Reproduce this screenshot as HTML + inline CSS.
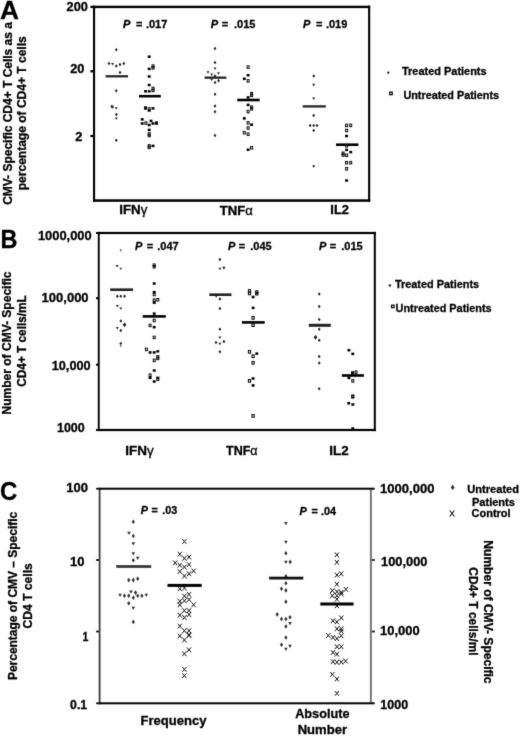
<!DOCTYPE html>
<html><head><meta charset="utf-8"><style>
html,body{margin:0;padding:0;background:#fff;}
body{width:520px;height:736px;overflow:hidden;}
svg{display:block;font-family:"Liberation Sans", sans-serif;will-change:transform;}
</style></head><body>
<svg width="520" height="736" viewBox="0 0 520 736">
<defs><filter id="sb" x="0" y="0" width="520" height="736" filterUnits="userSpaceOnUse" color-interpolation-filters="sRGB"><feConvolveMatrix order="3" kernelMatrix="0.01134 0.08382 0.01134 0.08382 0.61935 0.08382 0.01134 0.08382 0.01134" edgeMode="duplicate"/></filter></defs>
<g filter="url(#sb)">
<rect width="520" height="736" fill="#fff"/>
<rect x="93" y="5.7" width="2.1" height="196.1" fill="#000"/>
<rect x="368.1" y="5.7" width="2.1" height="196.1" fill="#000"/>
<rect x="93" y="199.3" width="277.2" height="2.5" fill="#000"/>
<rect x="93" y="5.7" width="277.2" height="2.4" fill="#000"/>
<rect x="90.4" y="5.75" width="3" height="2.3" fill="#000"/>
<rect x="90.4" y="70.1" width="3" height="2.3" fill="#000"/>
<rect x="90.4" y="134.85" width="3" height="2.3" fill="#000"/>
<path d="M386.8 71.8L389.8 71.8L388.3 74.5Z" fill="#222"/>
<rect x="389.75" y="92.15" width="2.5" height="2.5" fill="none" stroke="#111" stroke-width="1.3"/>
<rect x="97.8" y="231.9" width="278.2" height="2.2" fill="#000"/>
<rect x="97.8" y="231.9" width="1.9" height="199.2" fill="#000"/>
<rect x="373.8" y="231.9" width="2" height="199.2" fill="#000"/>
<rect x="97.8" y="428.9" width="278.2" height="2.2" fill="#000"/>
<rect x="96" y="232" width="2.5" height="2" fill="#000"/>
<rect x="96" y="297.2" width="2.5" height="2" fill="#000"/>
<rect x="96" y="363.7" width="2.5" height="2" fill="#000"/>
<rect x="96" y="429" width="2.5" height="2" fill="#000"/>
<path d="M388.15 284.54L391.55 284.54L389.85 287.6Z" fill="#222"/>
<rect x="391.55" y="305.15" width="2.5" height="2.5" fill="none" stroke="#111" stroke-width="1.3"/>
<rect x="369.9" y="489.6" width="2" height="212.8" fill="#767676"/>
<rect x="98.7" y="487.8" width="1.8" height="216.6" fill="#3c3c3c"/>
<rect x="98.7" y="487.7" width="276" height="2" fill="#000"/>
<rect x="98.7" y="702.3" width="276" height="2" fill="#000"/>
<rect x="96.2" y="559.1" width="2.6" height="1.8" fill="#000"/>
<rect x="371.9" y="559.1" width="3" height="1.8" fill="#222"/>
<rect x="96.2" y="630.6" width="2.6" height="1.8" fill="#000"/>
<rect x="371.9" y="630.6" width="3" height="1.8" fill="#222"/>
<rect x="96.2" y="487.8" width="2.6" height="1.8" fill="#000"/>
<rect x="96.2" y="702.4" width="2.6" height="1.8" fill="#000"/>
<path d="M452.7 484.55Q453.46 486.26 454.6 487.4Q453.46 488.54 452.7 490.25Q451.94 488.54 450.8 487.4Q451.94 486.26 452.7 484.55Z" fill="#333"/>
<path d="M449.65 510.5L454.45 516.5M454.45 510.5L449.65 516.5" stroke="#111" stroke-width="1.1" fill="none"/>
<text id="A" stroke="#000" stroke-width="0.3" x="0.13" y="19.26" font-size="25" font-weight="bold" textLength="19.00" lengthAdjust="spacingAndGlyphs">A</text>
<text id="a200" stroke="#000" stroke-width="0.3" x="66.58" y="11.18" font-size="12" font-weight="bold" textLength="21.31" lengthAdjust="spacingAndGlyphs">200</text>
<text id="a20" stroke="#000" stroke-width="0.3" x="70.30" y="72.98" font-size="12" font-weight="bold" textLength="14.15" lengthAdjust="spacingAndGlyphs">20</text>
<text id="a2" stroke="#000" stroke-width="0.3" x="75.25" y="140.78" font-size="12" font-weight="bold" textLength="7.19" lengthAdjust="spacingAndGlyphs">2</text>
<text id="p017" stroke="#000" stroke-width="0.3" x="122.96" y="27.96" font-size="11" font-weight="bold" xml:space="preserve"><tspan id="p017_P" font-style="italic">P</tspan><tspan id="p017_E" dx="2.76"> =</tspan><tspan id="p017_D" dx="0.30"> .017</tspan></text>
<text id="p015" stroke="#000" stroke-width="0.3" x="210.78" y="27.96" font-size="11" font-weight="bold" xml:space="preserve"><tspan id="p015_P" font-style="italic">P</tspan><tspan id="p015_E" dx="0.51"> =</tspan><tspan id="p015_D" dx="2.80"> .015</tspan></text>
<text id="p019" stroke="#000" stroke-width="0.3" x="302.96" y="27.96" font-size="11" font-weight="bold" xml:space="preserve"><tspan id="p019_P" font-style="italic">P</tspan><tspan id="p019_E" dx="2.76"> =</tspan><tspan id="p019_D" dx="0.30"> .019</tspan></text>
<text id="ifnA" stroke="#000" stroke-width="0.3" x="119.22" y="214.16" font-size="12" font-weight="bold" textLength="28.10" lengthAdjust="spacingAndGlyphs">IFN<tspan font-weight="normal">γ</tspan></text>
<text id="tnfA" stroke="#000" stroke-width="0.3" x="219.82" y="214.56" font-size="12" font-weight="bold" textLength="32.99" lengthAdjust="spacingAndGlyphs">TNF<tspan font-weight="normal">α</tspan></text>
<text id="il2A" stroke="#000" stroke-width="0.3" x="330.31" y="213.86" font-size="12" font-weight="bold" textLength="18.63" lengthAdjust="spacingAndGlyphs">IL2</text>
<text id="trA" stroke="#000" stroke-width="0.3" x="401.96" y="74.76" font-size="11.5" font-weight="bold" textLength="84.67" lengthAdjust="spacingAndGlyphs">Treated Patients</text>
<text id="unA" stroke="#000" stroke-width="0.3" x="403.38" y="99.26" font-size="11.5" font-weight="bold" textLength="95.74" lengthAdjust="spacingAndGlyphs">Untreated Patients</text>
<text id="ytA1" stroke="#000" stroke-width="0.3" transform="translate(12.28 113.47) rotate(-90)" x="0" y="0" text-anchor="middle" font-size="11.9" font-weight="bold" textLength="182.75" lengthAdjust="spacingAndGlyphs">CMV- Specific CD4+ T Cells as a</text>
<text id="ytA2" stroke="#000" stroke-width="0.3" transform="translate(26.38 113.26) rotate(-90)" x="0" y="0" text-anchor="middle" font-size="11.9" font-weight="bold" textLength="153.94" lengthAdjust="spacingAndGlyphs">percentage of CD4+ T cells</text>
<text id="B" stroke="#000" stroke-width="0.3" x="0.54" y="247.76" font-size="25" font-weight="bold" textLength="16.93" lengthAdjust="spacingAndGlyphs">B</text>
<text id="b6" stroke="#000" stroke-width="0.3" x="37.92" y="239.85" font-size="12.5" font-weight="bold" textLength="53.82" lengthAdjust="spacingAndGlyphs">1000,000</text>
<text id="b5" stroke="#000" stroke-width="0.3" x="41.61" y="302.06" font-size="12.5" font-weight="bold" textLength="46.99" lengthAdjust="spacingAndGlyphs">100,000</text>
<text id="b4" stroke="#000" stroke-width="0.3" x="51.69" y="370.46" font-size="12.5" font-weight="bold" textLength="38.93" lengthAdjust="spacingAndGlyphs">10,000</text>
<text id="b3" stroke="#000" stroke-width="0.3" x="56.97" y="431.70" font-size="12.5" font-weight="bold">1000</text>
<text id="p047" stroke="#000" stroke-width="0.3" x="134.96" y="250.46" font-size="11" font-weight="bold" xml:space="preserve"><tspan id="p047_P" font-style="italic">P</tspan><tspan id="p047_E" dx="1.34"> =</tspan><tspan id="p047_D" dx="1.05"> .047</tspan></text>
<text id="p045" stroke="#000" stroke-width="0.3" x="227.96" y="250.46" font-size="11" font-weight="bold" xml:space="preserve"><tspan id="p045_P" font-style="italic">P</tspan><tspan id="p045_E" dx="0.33"> =</tspan><tspan id="p045_D" dx="2.06"> .045</tspan></text>
<text id="p015b" stroke="#000" stroke-width="0.3" x="318.96" y="250.46" font-size="11" font-weight="bold" xml:space="preserve"><tspan id="p015b_P" font-style="italic">P</tspan><tspan id="p015b_E" dx="0.29"> =</tspan><tspan id="p015b_D" dx="2.10"> .015</tspan></text>
<text id="ifnB" stroke="#000" stroke-width="0.3" x="125.38" y="454.76" font-size="12" font-weight="bold" textLength="28.44" lengthAdjust="spacingAndGlyphs">IFN<tspan font-weight="normal">γ</tspan></text>
<text id="tnfB" stroke="#000" stroke-width="0.3" x="226.05" y="455.26" font-size="12" font-weight="bold" textLength="31.53" lengthAdjust="spacingAndGlyphs">TNF<tspan font-weight="normal">α</tspan></text>
<text id="il2B" stroke="#000" stroke-width="0.3" x="329.36" y="454.56" font-size="12" font-weight="bold" textLength="19.34" lengthAdjust="spacingAndGlyphs">IL2</text>
<text id="trB" stroke="#000" stroke-width="0.3" x="394.96" y="287.76" font-size="11.5" font-weight="bold" textLength="84.18" lengthAdjust="spacingAndGlyphs">Treated Patients</text>
<text id="unB" stroke="#000" stroke-width="0.3" x="395.62" y="311.76" font-size="11.5" font-weight="bold" textLength="96.00" lengthAdjust="spacingAndGlyphs">Untreated Patients</text>
<text id="ytB1" stroke="#000" stroke-width="0.3" transform="translate(11.47 343.03) rotate(-90)" x="0" y="0" text-anchor="middle" font-size="12" font-weight="bold" textLength="142.93" lengthAdjust="spacingAndGlyphs">Number of CMV- Specific</text>
<text id="ytB2" stroke="#000" stroke-width="0.3" transform="translate(25.78 341.00) rotate(-90)" x="0" y="0" text-anchor="middle" font-size="12" font-weight="bold" textLength="91.38" lengthAdjust="spacingAndGlyphs">CD4+ T cells/mL</text>
<text id="C" stroke="#000" stroke-width="0.3" x="-0.07" y="500.18" font-size="25" font-weight="bold" textLength="17.30" lengthAdjust="spacingAndGlyphs">C</text>
<text id="c100" stroke="#000" stroke-width="0.3" x="66.25" y="491.56" font-size="12" font-weight="bold" textLength="21.65" lengthAdjust="spacingAndGlyphs">100</text>
<text id="c10" stroke="#000" stroke-width="0.3" x="69.99" y="566.02" font-size="12" font-weight="bold" textLength="14.49" lengthAdjust="spacingAndGlyphs">10</text>
<text id="c1" stroke="#000" stroke-width="0.3" x="82.52" y="640.55" font-size="12" font-weight="bold" textLength="5.87" lengthAdjust="spacingAndGlyphs">1</text>
<text id="c01" stroke="#000" stroke-width="0.3" x="70.13" y="708.63" font-size="12" font-weight="bold" textLength="16.94" lengthAdjust="spacingAndGlyphs">0.1</text>
<text id="r6" stroke="#000" stroke-width="0.3" x="380.13" y="493.14" font-size="12" font-weight="bold" textLength="54.26" lengthAdjust="spacingAndGlyphs">1000,000</text>
<text id="r5" stroke="#000" stroke-width="0.3" x="381.03" y="565.86" font-size="12" font-weight="bold" textLength="46.42" lengthAdjust="spacingAndGlyphs">100,000</text>
<text id="r4" stroke="#000" stroke-width="0.3" x="380.10" y="634.92" font-size="12" font-weight="bold" textLength="39.50" lengthAdjust="spacingAndGlyphs">10,000</text>
<text id="r3" stroke="#000" stroke-width="0.3" x="380.36" y="708.83" font-size="12" font-weight="bold" textLength="27.71" lengthAdjust="spacingAndGlyphs">1000</text>
<text id="p03" stroke="#000" stroke-width="0.3" x="140.83" y="514.06" font-size="10.8" font-weight="bold" xml:space="preserve"><tspan id="p03_P" font-style="italic">P</tspan><tspan id="p03_E" dx="0.46"> =</tspan><tspan id="p03_D" dx="1.35"> .03</tspan></text>
<text id="p04" stroke="#000" stroke-width="0.3" x="299.62" y="515.26" font-size="10.8" font-weight="bold" xml:space="preserve"><tspan id="p04_P" font-style="italic">P</tspan><tspan id="p04_E" dx="1.67"> =</tspan><tspan id="p04_D" dx="0.25"> .04</tspan></text>
<text id="freq" stroke="#000" stroke-width="0.3" x="140.53" y="724.66" font-size="12.8" font-weight="bold" textLength="65.99" lengthAdjust="spacingAndGlyphs">Frequency</text>
<text id="abs" stroke="#000" stroke-width="0.3" x="295.13" y="717.76" font-size="12.8" font-weight="bold" textLength="54.39" lengthAdjust="spacingAndGlyphs">Absolute</text>
<text id="num" stroke="#000" stroke-width="0.3" x="297.69" y="733.56" font-size="12.8" font-weight="bold" textLength="49.34" lengthAdjust="spacingAndGlyphs">Number</text>
<text id="lu" stroke="#000" stroke-width="0.3" x="467.28" y="492.60" font-size="11" font-weight="bold" textLength="51.79" lengthAdjust="spacingAndGlyphs">Untreated</text>
<text id="lp" stroke="#000" stroke-width="0.3" x="471.92" y="506.36" font-size="11" font-weight="bold" textLength="43.05" lengthAdjust="spacingAndGlyphs">Patients</text>
<text id="lc" stroke="#000" stroke-width="0.3" x="471.62" y="517.26" font-size="11" font-weight="bold" textLength="38.94" lengthAdjust="spacingAndGlyphs">Control</text>
<text id="ytC1" stroke="#000" stroke-width="0.3" transform="translate(17.11 595.93) rotate(-90)" x="0" y="0" text-anchor="middle" font-size="12" font-weight="bold" textLength="168.31" lengthAdjust="spacingAndGlyphs">Percentage of CMV – Specific</text>
<text id="ytC2" stroke="#000" stroke-width="0.3" transform="translate(32.18 595.91) rotate(-90)" x="0" y="0" text-anchor="middle" font-size="12" font-weight="bold" textLength="65.27" lengthAdjust="spacingAndGlyphs">CD4 T cells</text>
<text id="rtC1" stroke="#000" stroke-width="0.3" transform="translate(484.16 611.93) rotate(90)" x="0" y="0" text-anchor="middle" font-size="12" font-weight="bold" textLength="143.18" lengthAdjust="spacingAndGlyphs">Number of CMV- Specific</text>
<text id="rtC2" stroke="#000" stroke-width="0.3" transform="translate(469.06 611.45) rotate(90)" x="0" y="0" text-anchor="middle" font-size="12" font-weight="bold" textLength="88.26" lengthAdjust="spacingAndGlyphs">CD4+ T cells/ml</text>
<path d="M116.3 48.05L117.7 49.8L116.3 51.55L114.9 49.8Z" fill="#222"/>
<path d="M109 61.85L110.4 63.6L109 65.35L107.6 63.6Z" fill="#222"/>
<path d="M116.3 64.15L117.7 65.9L116.3 67.65L114.9 65.9Z" fill="#222"/>
<path d="M120 62.75L121.4 64.5L120 66.25L118.6 64.5Z" fill="#222"/>
<path d="M123.8 61.75L125.2 63.5L123.8 65.25L122.4 63.5Z" fill="#222"/>
<path d="M120 70.65L121.4 72.4L120 74.15L118.6 72.4Z" fill="#222"/>
<path d="M116.3 88.95L117.7 90.7L116.3 92.45L114.9 90.7Z" fill="#222"/>
<path d="M112.6 105.35L114 107.1L112.6 108.85L111.2 107.1Z" fill="#222"/>
<path d="M116.3 112.65L117.7 114.4L116.3 116.15L114.9 114.4Z" fill="#222"/>
<path d="M116.3 138.45L117.7 140.2L116.3 141.95L114.9 140.2Z" fill="#222"/>
<path d="M111.2 62.88L114 62.88L112.6 65.4Z" fill="#222"/>
<path d="M114.9 107.28L117.7 107.28L116.3 109.8Z" fill="#222"/>
<path d="M114.9 117.48L117.7 117.48L116.3 120Z" fill="#222"/>
<path d="M111.8 104.85L113.2 106.6L111.8 108.35L110.4 106.6Z" fill="#222"/>
<rect x="105.6" y="75.175" width="22.4" height="2.25" fill="#202020"/>
<rect x="147.75" y="55.45" width="2.9" height="2.5" fill="#000"/>
<rect x="147.75" y="67.65" width="2.9" height="2.5" fill="#000"/>
<rect x="147.75" y="75.25" width="2.9" height="2.5" fill="#000"/>
<rect x="147.75" y="83.75" width="2.9" height="2.5" fill="#000"/>
<rect x="144.05" y="90.05" width="2.9" height="2.5" fill="#000"/>
<rect x="147.75" y="90.05" width="2.9" height="2.5" fill="#000"/>
<rect x="151.55" y="107.15" width="2.9" height="2.5" fill="#000"/>
<rect x="140.75" y="118.15" width="2.9" height="2.5" fill="#000"/>
<rect x="140.75" y="122.25" width="2.9" height="2.5" fill="#000"/>
<rect x="147.75" y="123.75" width="2.9" height="2.5" fill="#000"/>
<rect x="149.55" y="119.65" width="2.9" height="2.5" fill="#000"/>
<rect x="151.55" y="122.25" width="2.9" height="2.5" fill="#000"/>
<rect x="147.75" y="128.65" width="2.9" height="2.5" fill="#000"/>
<rect x="151.55" y="144.65" width="2.9" height="2.5" fill="#000"/>
<rect x="147.75" y="109.25" width="2.9" height="2.5" fill="#000"/>
<rect x="152" y="64.85" width="2" height="2.5" fill="none" stroke="#0a0a0a" stroke-width="1"/>
<rect x="152" y="66.65" width="2" height="2.5" fill="none" stroke="#0a0a0a" stroke-width="1"/>
<rect x="152" y="87.25" width="2" height="2.5" fill="none" stroke="#0a0a0a" stroke-width="1"/>
<rect x="152" y="89.15" width="2" height="2.5" fill="none" stroke="#0a0a0a" stroke-width="1"/>
<rect x="144.5" y="106.75" width="2" height="2.5" fill="none" stroke="#0a0a0a" stroke-width="1"/>
<rect x="148.2" y="107.75" width="2" height="2.5" fill="none" stroke="#0a0a0a" stroke-width="1"/>
<rect x="144.9" y="121.85" width="2" height="2.5" fill="none" stroke="#0a0a0a" stroke-width="1"/>
<rect x="155.5" y="121.85" width="2" height="2.5" fill="none" stroke="#0a0a0a" stroke-width="1"/>
<rect x="148.2" y="132.75" width="2" height="2.5" fill="none" stroke="#0a0a0a" stroke-width="1"/>
<rect x="148.2" y="134.25" width="2" height="2.5" fill="none" stroke="#0a0a0a" stroke-width="1"/>
<rect x="148.2" y="144.65" width="2" height="2.5" fill="none" stroke="#0a0a0a" stroke-width="1"/>
<rect x="148.2" y="146.15" width="2" height="2.5" fill="none" stroke="#0a0a0a" stroke-width="1"/>
<rect x="139" y="94.9" width="21.8" height="2.6" fill="#000"/>
<path d="M215 46.85L216.4 48.6L215 50.35L213.6 48.6Z" fill="#222"/>
<path d="M215 60.65L216.4 62.4L215 64.15L213.6 62.4Z" fill="#222"/>
<path d="M215 74.15L216.4 75.9L215 77.65L213.6 75.9Z" fill="#222"/>
<path d="M215 80.65L216.4 82.4L215 84.15L213.6 82.4Z" fill="#222"/>
<path d="M215 92.45L216.4 94.2L215 95.95L213.6 94.2Z" fill="#222"/>
<path d="M215 104.25L216.4 106L215 107.75L213.6 106Z" fill="#222"/>
<path d="M215 109.95L216.4 111.7L215 113.45L213.6 111.7Z" fill="#222"/>
<path d="M215 133.75L216.4 135.5L215 137.25L213.6 135.5Z" fill="#222"/>
<path d="M218.6 78.95L220 80.7L218.6 82.45L217.2 80.7Z" fill="#222"/>
<path d="M213.6 67.58L216.4 67.58L215 70.1Z" fill="#222"/>
<path d="M206.6 71.28L209.4 71.28L208 73.8Z" fill="#222"/>
<path d="M210.3 73.48L213.1 73.48L211.7 76Z" fill="#222"/>
<path d="M217.2 72.28L220 72.28L218.6 74.8Z" fill="#222"/>
<path d="M210.3 78.68L213.1 78.68L211.7 81.2Z" fill="#222"/>
<rect x="204.6" y="76.525" width="21.8" height="2.25" fill="#202020"/>
<rect x="246.65" y="73.95" width="2.9" height="2.5" fill="#000"/>
<rect x="242.85" y="77.55" width="2.9" height="2.5" fill="#000"/>
<rect x="246.65" y="96.15" width="2.9" height="2.5" fill="#000"/>
<rect x="246.65" y="103.65" width="2.9" height="2.5" fill="#000"/>
<rect x="242.85" y="117.15" width="2.9" height="2.5" fill="#000"/>
<rect x="250.15" y="123.45" width="2.9" height="2.5" fill="#000"/>
<rect x="246.65" y="148.45" width="2.9" height="2.5" fill="#000"/>
<rect x="247.1" y="65.85" width="2" height="2.5" fill="none" stroke="#0a0a0a" stroke-width="1"/>
<rect x="247.1" y="79.65" width="2" height="2.5" fill="none" stroke="#0a0a0a" stroke-width="1"/>
<rect x="250.6" y="92.45" width="2" height="2.5" fill="none" stroke="#0a0a0a" stroke-width="1"/>
<rect x="250.6" y="94.05" width="2" height="2.5" fill="none" stroke="#0a0a0a" stroke-width="1"/>
<rect x="250.6" y="105.95" width="2" height="2.5" fill="none" stroke="#0a0a0a" stroke-width="1"/>
<rect x="250.6" y="107.55" width="2" height="2.5" fill="none" stroke="#0a0a0a" stroke-width="1"/>
<rect x="247.1" y="110.35" width="2" height="2.5" fill="none" stroke="#0a0a0a" stroke-width="1"/>
<rect x="247.1" y="121.55" width="2" height="2.5" fill="none" stroke="#0a0a0a" stroke-width="1"/>
<rect x="247.1" y="126.75" width="2" height="2.5" fill="none" stroke="#0a0a0a" stroke-width="1"/>
<rect x="243.3" y="131.45" width="2" height="2.5" fill="none" stroke="#0a0a0a" stroke-width="1"/>
<rect x="247.1" y="132.95" width="2" height="2.5" fill="none" stroke="#0a0a0a" stroke-width="1"/>
<rect x="250.6" y="146.55" width="2" height="2.5" fill="none" stroke="#0a0a0a" stroke-width="1"/>
<rect x="237.3" y="98.7" width="22.4" height="2.6" fill="#000"/>
<path d="M313.7 74.25L315.1 76L313.7 77.75L312.3 76Z" fill="#222"/>
<path d="M313.7 113.75L315.1 115.5L313.7 117.25L312.3 115.5Z" fill="#222"/>
<path d="M310.1 123.65L311.5 125.4L310.1 127.15L308.7 125.4Z" fill="#222"/>
<path d="M313.7 123.65L315.1 125.4L313.7 127.15L312.3 125.4Z" fill="#222"/>
<path d="M317 123.65L318.4 125.4L317 127.15L315.6 125.4Z" fill="#222"/>
<path d="M313.7 128.75L315.1 130.5L313.7 132.25L312.3 130.5Z" fill="#222"/>
<path d="M312.2 83.8L315.2 83.8L313.7 86.5Z" fill="#222"/>
<path d="M312.2 97.4L315.2 97.4L313.7 100.1Z" fill="#222"/>
<path d="M312.2 165.3L315.2 165.3L313.7 168Z" fill="#222"/>
<rect x="302.7" y="105.275" width="23.1" height="2.25" fill="#202020"/>
<rect x="345.15" y="134.75" width="2.9" height="2.5" fill="#000"/>
<rect x="345.15" y="148.65" width="2.9" height="2.5" fill="#000"/>
<rect x="349.25" y="150.85" width="2.9" height="2.5" fill="#000"/>
<rect x="345.15" y="179.25" width="2.9" height="2.5" fill="#000"/>
<rect x="345.6" y="124.15" width="2" height="2.5" fill="none" stroke="#0a0a0a" stroke-width="1"/>
<rect x="349.7" y="124.15" width="2" height="2.5" fill="none" stroke="#0a0a0a" stroke-width="1"/>
<rect x="345.6" y="129.25" width="2" height="2.5" fill="none" stroke="#0a0a0a" stroke-width="1"/>
<rect x="345.6" y="144.55" width="2" height="2.5" fill="none" stroke="#0a0a0a" stroke-width="1"/>
<rect x="342.1" y="152.05" width="2" height="2.5" fill="none" stroke="#0a0a0a" stroke-width="1"/>
<rect x="342.1" y="153.75" width="2" height="2.5" fill="none" stroke="#0a0a0a" stroke-width="1"/>
<rect x="345.6" y="154.05" width="2" height="2.5" fill="none" stroke="#0a0a0a" stroke-width="1"/>
<rect x="345.6" y="161.45" width="2" height="2.5" fill="none" stroke="#0a0a0a" stroke-width="1"/>
<rect x="349.7" y="161.45" width="2" height="2.5" fill="none" stroke="#0a0a0a" stroke-width="1"/>
<rect x="345.6" y="167.55" width="2" height="2.5" fill="none" stroke="#0a0a0a" stroke-width="1"/>
<rect x="336" y="143.4" width="22.4" height="2.6" fill="#000"/>
<path d="M117.3 294.45L118.7 296.2L117.3 297.95L115.9 296.2Z" fill="#222"/>
<path d="M120.8 294.45L122.2 296.2L120.8 297.95L119.4 296.2Z" fill="#222"/>
<path d="M124.6 294.45L126 296.2L124.6 297.95L123.2 296.2Z" fill="#222"/>
<path d="M120.8 319.15L122.2 320.9L120.8 322.65L119.4 320.9Z" fill="#222"/>
<path d="M124.6 322.95L126 324.7L124.6 326.45L123.2 324.7Z" fill="#222"/>
<path d="M120.8 328.75L122.2 330.5L120.8 332.25L119.4 330.5Z" fill="#222"/>
<path d="M120.8 341.75L122.2 343.5L120.8 345.25L119.4 343.5Z" fill="#222"/>
<path d="M115.7 264.98L118.5 264.98L117.1 267.5Z" fill="#222"/>
<path d="M115.9 305.08L118.7 305.08L117.3 307.6Z" fill="#222"/>
<path d="M119.4 307.58L122.2 307.58L120.8 310.1Z" fill="#222"/>
<path d="M115.9 326.88L118.7 326.88L117.3 329.4Z" fill="#222"/>
<path d="M120.8 248.7L122 250.2L120.8 251.7L119.6 250.2Z" fill="#777"/>
<path d="M120.8 266.875L122.1 268.5L120.8 270.125L119.5 268.5Z" fill="#666"/>
<path d="M120.8 344.5L122 346L120.8 347.5L119.6 346Z" fill="#888"/>
<path d="M124.6 322.45L126.4 324.7L124.6 326.95L122.8 324.7Z" fill="#222"/>
<rect x="110.2" y="288.4" width="22.8" height="2.6" fill="#222222"/>
<rect x="152.75" y="282.25" width="2.9" height="2.5" fill="#000"/>
<rect x="152.75" y="290.85" width="2.9" height="2.5" fill="#000"/>
<rect x="152.75" y="301.45" width="2.9" height="2.5" fill="#000"/>
<rect x="152.75" y="312.35" width="2.9" height="2.5" fill="#000"/>
<rect x="152.75" y="325.95" width="2.9" height="2.5" fill="#000"/>
<rect x="148.65" y="351.15" width="2.9" height="2.5" fill="#000"/>
<rect x="152.75" y="351.15" width="2.9" height="2.5" fill="#000"/>
<rect x="156.35" y="350.05" width="2.9" height="2.5" fill="#000"/>
<rect x="152.75" y="369.25" width="2.9" height="2.5" fill="#000"/>
<rect x="148.65" y="376.55" width="2.9" height="2.5" fill="#000"/>
<rect x="156.35" y="376.55" width="2.9" height="2.5" fill="#000"/>
<rect x="152.75" y="380.25" width="2.9" height="2.5" fill="#000"/>
<rect x="153.2" y="263.95" width="2" height="2.5" fill="none" stroke="#0a0a0a" stroke-width="1"/>
<rect x="153.2" y="265.55" width="2" height="2.5" fill="none" stroke="#0a0a0a" stroke-width="1"/>
<rect x="153.2" y="293.25" width="2" height="2.5" fill="none" stroke="#0a0a0a" stroke-width="1"/>
<rect x="153.2" y="298.95" width="2" height="2.5" fill="none" stroke="#0a0a0a" stroke-width="1"/>
<rect x="156.8" y="298.55" width="2" height="2.5" fill="none" stroke="#0a0a0a" stroke-width="1"/>
<rect x="153.2" y="319.25" width="2" height="2.5" fill="none" stroke="#0a0a0a" stroke-width="1"/>
<rect x="149.1" y="324.15" width="2" height="2.5" fill="none" stroke="#0a0a0a" stroke-width="1"/>
<rect x="153.2" y="336.15" width="2" height="2.5" fill="none" stroke="#0a0a0a" stroke-width="1"/>
<rect x="145.4" y="348.15" width="2" height="2.5" fill="none" stroke="#0a0a0a" stroke-width="1"/>
<rect x="156.8" y="355.55" width="2" height="2.5" fill="none" stroke="#0a0a0a" stroke-width="1"/>
<rect x="156.8" y="357.15" width="2" height="2.5" fill="none" stroke="#0a0a0a" stroke-width="1"/>
<rect x="153.2" y="359.15" width="2" height="2.5" fill="none" stroke="#0a0a0a" stroke-width="1"/>
<rect x="149.1" y="373.95" width="2" height="2.5" fill="none" stroke="#0a0a0a" stroke-width="1"/>
<rect x="156.8" y="378.05" width="2" height="2.5" fill="none" stroke="#0a0a0a" stroke-width="1"/>
<rect x="142.7" y="315.1" width="23.1" height="2.6" fill="#000"/>
<path d="M219.9 257.85L221.3 259.6L219.9 261.35L218.5 259.6Z" fill="#222"/>
<path d="M223.9 266.05L225.3 267.8L223.9 269.55L222.5 267.8Z" fill="#222"/>
<path d="M219.9 297.15L221.3 298.9L219.9 300.65L218.5 298.9Z" fill="#222"/>
<path d="M219.9 306.75L221.3 308.5L219.9 310.25L218.5 308.5Z" fill="#222"/>
<path d="M219.9 327.45L221.3 329.2L219.9 330.95L218.5 329.2Z" fill="#222"/>
<path d="M216 340.75L217.4 342.5L216 344.25L214.6 342.5Z" fill="#222"/>
<path d="M223.9 339.85L225.3 341.6L223.9 343.35L222.5 341.6Z" fill="#222"/>
<path d="M219.9 350.05L221.3 351.8L219.9 353.55L218.5 351.8Z" fill="#222"/>
<path d="M218.5 267.78L221.3 267.78L219.9 270.3Z" fill="#222"/>
<path d="M214.8 295.18L217.6 295.18L216.2 297.7Z" fill="#222"/>
<path d="M218.5 336.58L221.3 336.58L219.9 339.1Z" fill="#222"/>
<path d="M218.5 342.68L221.3 342.68L219.9 345.2Z" fill="#222"/>
<rect x="209.3" y="293.4" width="22.2" height="2.6" fill="#222222"/>
<rect x="251.65" y="295.75" width="2.9" height="2.5" fill="#000"/>
<rect x="251.65" y="306.65" width="2.9" height="2.5" fill="#000"/>
<rect x="255.35" y="352.35" width="2.9" height="2.5" fill="#000"/>
<rect x="251.65" y="377.25" width="2.9" height="2.5" fill="#000"/>
<rect x="251.65" y="384.15" width="2.9" height="2.5" fill="#000"/>
<rect x="248.425" y="289.675" width="2.15" height="2.65" fill="none" stroke="#0a0a0a" stroke-width="1.05"/>
<rect x="248.425" y="292.075" width="2.15" height="2.65" fill="none" stroke="#0a0a0a" stroke-width="1.05"/>
<rect x="255.725" y="290.775" width="2.15" height="2.65" fill="none" stroke="#0a0a0a" stroke-width="1.05"/>
<rect x="255.725" y="292.375" width="2.15" height="2.65" fill="none" stroke="#0a0a0a" stroke-width="1.05"/>
<rect x="252.025" y="316.575" width="2.15" height="2.65" fill="none" stroke="#0a0a0a" stroke-width="1.05"/>
<rect x="252.025" y="323.875" width="2.15" height="2.65" fill="none" stroke="#0a0a0a" stroke-width="1.05"/>
<rect x="248.425" y="350.475" width="2.15" height="2.65" fill="none" stroke="#0a0a0a" stroke-width="1.05"/>
<rect x="252.025" y="354.875" width="2.15" height="2.65" fill="none" stroke="#0a0a0a" stroke-width="1.05"/>
<rect x="252.025" y="361.475" width="2.15" height="2.65" fill="none" stroke="#0a0a0a" stroke-width="1.05"/>
<rect x="248.425" y="379.575" width="2.15" height="2.65" fill="none" stroke="#0a0a0a" stroke-width="1.05"/>
<rect x="252.025" y="414.575" width="2.15" height="2.65" fill="none" stroke="#0a0a0a" stroke-width="1.05"/>
<rect x="241.9" y="321.1" width="22.8" height="2.6" fill="#000"/>
<path d="M319.2 292.35L320.6 294.1L319.2 295.85L317.8 294.1Z" fill="#222"/>
<path d="M319.2 304.65L320.6 306.4L319.2 308.15L317.8 306.4Z" fill="#222"/>
<path d="M319.2 317.85L320.6 319.6L319.2 321.35L317.8 319.6Z" fill="#222"/>
<path d="M319.2 327.45L320.6 329.2L319.2 330.95L317.8 329.2Z" fill="#222"/>
<path d="M319.2 338.55L320.6 340.3L319.2 342.05L317.8 340.3Z" fill="#222"/>
<path d="M319.2 354.65L320.6 356.4L319.2 358.15L317.8 356.4Z" fill="#222"/>
<path d="M319.2 361.15L320.6 362.9L319.2 364.65L317.8 362.9Z" fill="#222"/>
<path d="M319.2 387.05L320.6 388.8L319.2 390.55L317.8 388.8Z" fill="#222"/>
<path d="M315.5 334.925L317.4 337.3L315.5 339.675L313.6 337.3Z" fill="#222"/>
<rect x="308.8" y="323.8" width="22" height="3" fill="#222222"/>
<rect x="347.45" y="348.95" width="2.9" height="2.5" fill="#000"/>
<rect x="351.35" y="352.65" width="2.9" height="2.5" fill="#000"/>
<rect x="347.45" y="376.65" width="2.9" height="2.5" fill="#000"/>
<rect x="347.25" y="401.95" width="2.9" height="2.5" fill="#000"/>
<rect x="351.35" y="403.25" width="2.9" height="2.5" fill="#000"/>
<rect x="351.35" y="427.25" width="2.9" height="2.5" fill="#000"/>
<rect x="351.5" y="371.75" width="2" height="2.5" fill="none" stroke="#0a0a0a" stroke-width="1"/>
<rect x="355" y="370.95" width="2" height="2.5" fill="none" stroke="#0a0a0a" stroke-width="1"/>
<rect x="351.8" y="379.65" width="2" height="2.5" fill="none" stroke="#0a0a0a" stroke-width="1"/>
<rect x="351.8" y="394.95" width="2" height="2.5" fill="none" stroke="#0a0a0a" stroke-width="1"/>
<rect x="351.7" y="395.55" width="2" height="2.5" fill="none" stroke="#0a0a0a" stroke-width="1"/>
<rect x="341.9" y="374.2" width="22" height="2.6" fill="#000"/>
<path d="M133.3 519.38L134.9 521.7L133.3 524.02L131.7 521.7Z" fill="#333"/>
<path d="M133.3 533.68L134.9 536L133.3 538.32L131.7 536Z" fill="#333"/>
<path d="M133.3 557.88L134.9 560.2L133.3 562.52L131.7 560.2Z" fill="#333"/>
<path d="M128.75 577.78L130.35 580.1L128.75 582.42L127.15 580.1Z" fill="#333"/>
<path d="M133.3 577.78L134.9 580.1L133.3 582.42L131.7 580.1Z" fill="#333"/>
<path d="M137.7 576.48L139.3 578.8L137.7 581.12L136.1 578.8Z" fill="#333"/>
<path d="M135.5 590.28L137.1 592.6L135.5 594.92L133.9 592.6Z" fill="#333"/>
<path d="M124.4 593.48L126 595.8L124.4 598.12L122.8 595.8Z" fill="#333"/>
<path d="M128.75 593.48L130.35 595.8L128.75 598.12L127.15 595.8Z" fill="#333"/>
<path d="M133.3 595.38L134.9 597.7L133.3 600.02L131.7 597.7Z" fill="#333"/>
<path d="M137.7 593.48L139.3 595.8L137.7 598.12L136.1 595.8Z" fill="#333"/>
<path d="M141.9 593.48L143.5 595.8L141.9 598.12L140.3 595.8Z" fill="#333"/>
<path d="M128.75 600.88L130.35 603.2L128.75 605.52L127.15 603.2Z" fill="#333"/>
<path d="M133.3 619.58L134.9 621.9L133.3 624.22L131.7 621.9Z" fill="#333"/>
<path d="M127.2 531.86L130.8 531.86L129 535.1Z" fill="#333"/>
<path d="M131.5 542.26L135.1 542.26L133.3 545.5Z" fill="#333"/>
<path d="M131.5 552.26L135.1 552.26L133.3 555.5Z" fill="#333"/>
<path d="M135.9 556.66L139.5 556.66L137.7 559.9Z" fill="#333"/>
<path d="M129.2 590.46L132.8 590.46L131 593.7Z" fill="#333"/>
<path d="M118.3 593.76L121.9 593.76L120.1 597Z" fill="#333"/>
<path d="M144.5 593.76L148.1 593.76L146.3 597Z" fill="#333"/>
<path d="M131.5 606.86L135.1 606.86L133.3 610.1Z" fill="#333"/>
<rect x="116.2" y="565.15" width="35" height="2.7" fill="#333"/>
<path d="M182.3 539.085L186.5 543.915M186.5 539.085L182.3 543.915" stroke="#111" stroke-width="1" fill="none"/>
<path d="M177.7 551.785L181.9 556.615M181.9 551.785L177.7 556.615" stroke="#111" stroke-width="1" fill="none"/>
<path d="M182.3 555.885L186.5 560.715M186.5 555.885L182.3 560.715" stroke="#111" stroke-width="1" fill="none"/>
<path d="M186.9 554.685L191.1 559.515M191.1 554.685L186.9 559.515" stroke="#111" stroke-width="1" fill="none"/>
<path d="M173.1 560.485L177.3 565.315M177.3 560.485L173.1 565.315" stroke="#111" stroke-width="1" fill="none"/>
<path d="M177.7 562.785L181.9 567.615M181.9 562.785L177.7 567.615" stroke="#111" stroke-width="1" fill="none"/>
<path d="M182.3 564.685L186.5 569.515M186.5 564.685L182.3 569.515" stroke="#111" stroke-width="1" fill="none"/>
<path d="M186.9 562.185L191.1 567.015M191.1 562.185L186.9 567.015" stroke="#111" stroke-width="1" fill="none"/>
<path d="M177.7 569.085L181.9 573.915M181.9 569.085L177.7 573.915" stroke="#111" stroke-width="1" fill="none"/>
<path d="M191.5 568.585L195.7 573.415M195.7 568.585L191.5 573.415" stroke="#111" stroke-width="1" fill="none"/>
<path d="M182.3 573.685L186.5 578.515M186.5 573.685L182.3 578.515" stroke="#111" stroke-width="1" fill="none"/>
<path d="M186.9 571.385L191.1 576.215M191.1 571.385L186.9 576.215" stroke="#111" stroke-width="1" fill="none"/>
<path d="M177.7 586.285L181.9 591.115M181.9 586.285L177.7 591.115" stroke="#111" stroke-width="1" fill="none"/>
<path d="M182.3 585.685L186.5 590.515M186.5 585.685L182.3 590.515" stroke="#111" stroke-width="1" fill="none"/>
<path d="M182.3 593.685L186.5 598.515M186.5 593.685L182.3 598.515" stroke="#111" stroke-width="1" fill="none"/>
<path d="M186.9 591.985L191.1 596.815M191.1 591.985L186.9 596.815" stroke="#111" stroke-width="1" fill="none"/>
<path d="M177.7 598.885L181.9 603.715M181.9 598.885L177.7 603.715" stroke="#111" stroke-width="1" fill="none"/>
<path d="M182.3 598.385L186.5 603.215M186.5 598.385L182.3 603.215" stroke="#111" stroke-width="1" fill="none"/>
<path d="M186.9 597.185L191.1 602.015M191.1 597.185L186.9 602.015" stroke="#111" stroke-width="1" fill="none"/>
<path d="M177.7 602.385L181.9 607.215M181.9 602.385L177.7 607.215" stroke="#111" stroke-width="1" fill="none"/>
<path d="M191.5 602.385L195.7 607.215M195.7 602.385L191.5 607.215" stroke="#111" stroke-width="1" fill="none"/>
<path d="M182.3 608.185L186.5 613.015M186.5 608.185L182.3 613.015" stroke="#111" stroke-width="1" fill="none"/>
<path d="M186.9 608.185L191.1 613.015M191.1 608.185L186.9 613.015" stroke="#111" stroke-width="1" fill="none"/>
<path d="M177.7 612.785L181.9 617.615M181.9 612.785L177.7 617.615" stroke="#111" stroke-width="1" fill="none"/>
<path d="M182.3 615.085L186.5 619.915M186.5 615.085L182.3 619.915" stroke="#111" stroke-width="1" fill="none"/>
<path d="M186.9 612.185L191.1 617.015M191.1 612.185L186.9 617.015" stroke="#111" stroke-width="1" fill="none"/>
<path d="M177.7 623.685L181.9 628.515M181.9 623.685L177.7 628.515" stroke="#111" stroke-width="1" fill="none"/>
<path d="M182.3 628.285L186.5 633.115M186.5 628.285L182.3 633.115" stroke="#111" stroke-width="1" fill="none"/>
<path d="M186.9 628.285L191.1 633.115M191.1 628.285L186.9 633.115" stroke="#111" stroke-width="1" fill="none"/>
<path d="M177.7 633.585L181.9 638.415M181.9 633.585L177.7 638.415" stroke="#111" stroke-width="1" fill="none"/>
<path d="M186.9 632.985L191.1 637.815M191.1 632.985L186.9 637.815" stroke="#111" stroke-width="1" fill="none"/>
<path d="M186.9 632.385L191.1 637.215M191.1 632.385L186.9 637.215" stroke="#111" stroke-width="1" fill="none"/>
<path d="M182.3 637.585L186.5 642.415M186.5 637.585L182.3 642.415" stroke="#111" stroke-width="1" fill="none"/>
<path d="M186.9 647.385L191.1 652.215M191.1 647.385L186.9 652.215" stroke="#111" stroke-width="1" fill="none"/>
<path d="M182.3 651.385L186.5 656.215M186.5 651.385L182.3 656.215" stroke="#111" stroke-width="1" fill="none"/>
<path d="M182.3 666.985L186.5 671.815M186.5 666.985L182.3 671.815" stroke="#111" stroke-width="1" fill="none"/>
<path d="M182.3 673.285L186.5 678.115M186.5 673.285L182.3 678.115" stroke="#111" stroke-width="1" fill="none"/>
<rect x="167.5" y="583.9" width="34.2" height="3" fill="#000"/>
<path d="M285.9 550.98L287.5 553.3L285.9 555.62L284.3 553.3Z" fill="#333"/>
<path d="M290.2 559.58L291.8 561.9L290.2 564.22L288.6 561.9Z" fill="#333"/>
<path d="M285.9 573.98L287.5 576.3L285.9 578.62L284.3 576.3Z" fill="#333"/>
<path d="M285.9 580.98L287.5 583.3L285.9 585.62L284.3 583.3Z" fill="#333"/>
<path d="M281.5 586.43L283.1 588.75L281.5 591.07L279.9 588.75Z" fill="#333"/>
<path d="M285.9 588.08L287.5 590.4L285.9 592.72L284.3 590.4Z" fill="#333"/>
<path d="M285.9 599.38L287.5 601.7L285.9 604.02L284.3 601.7Z" fill="#333"/>
<path d="M277.2 612.08L278.8 614.4L277.2 616.72L275.6 614.4Z" fill="#333"/>
<path d="M281.5 616.68L283.1 619L281.5 621.32L279.9 619Z" fill="#333"/>
<path d="M285.9 616.68L287.5 619L285.9 621.32L284.3 619Z" fill="#333"/>
<path d="M290 614.98L291.6 617.3L290 619.62L288.4 617.3Z" fill="#333"/>
<path d="M285.9 635.18L287.5 637.5L285.9 639.82L284.3 637.5Z" fill="#333"/>
<path d="M281.5 642.48L283.1 644.8L281.5 647.12L279.9 644.8Z" fill="#333"/>
<path d="M285.9 624.18L287.5 626.5L285.9 628.82L284.3 626.5Z" fill="#333"/>
<path d="M284.1 522.06L287.7 522.06L285.9 525.3Z" fill="#333"/>
<path d="M284.1 540.66L287.7 540.66L285.9 543.9Z" fill="#333"/>
<path d="M284.1 560.66L287.7 560.66L285.9 563.9Z" fill="#333"/>
<path d="M288.2 622.06L291.8 622.06L290 625.3Z" fill="#333"/>
<path d="M288.2 644.76L291.8 644.76L290 648Z" fill="#333"/>
<path d="M284.1 647.86L287.7 647.86L285.9 651.1Z" fill="#333"/>
<rect x="269.1" y="576.7" width="34.2" height="2.8" fill="#111"/>
<path d="M334.8 552.385L339 557.215M339 552.385L334.8 557.215" stroke="#111" stroke-width="1" fill="none"/>
<path d="M334.8 559.885L339 564.715M339 559.885L334.8 564.715" stroke="#111" stroke-width="1" fill="none"/>
<path d="M334.8 572.585L339 577.415M339 572.585L334.8 577.415" stroke="#111" stroke-width="1" fill="none"/>
<path d="M339.2 571.385L343.4 576.215M343.4 571.385L339.2 576.215" stroke="#111" stroke-width="1" fill="none"/>
<path d="M334.8 581.785L339 586.615M339 581.785L334.8 586.615" stroke="#111" stroke-width="1" fill="none"/>
<path d="M330.2 588.185L334.4 593.015M334.4 588.185L330.2 593.015" stroke="#111" stroke-width="1" fill="none"/>
<path d="M334.8 589.285L339 594.115M339 589.285L334.8 594.115" stroke="#111" stroke-width="1" fill="none"/>
<path d="M339.2 589.885L343.4 594.715M343.4 589.885L339.2 594.715" stroke="#111" stroke-width="1" fill="none"/>
<path d="M343.8 586.985L348 591.815M348 586.985L343.8 591.815" stroke="#111" stroke-width="1" fill="none"/>
<path d="M330.2 593.285L334.4 598.115M334.4 593.285L330.2 598.115" stroke="#111" stroke-width="1" fill="none"/>
<path d="M334.8 593.285L339 598.115M339 593.285L334.8 598.115" stroke="#111" stroke-width="1" fill="none"/>
<path d="M339.2 591.585L343.4 596.415M343.4 591.585L339.2 596.415" stroke="#111" stroke-width="1" fill="none"/>
<path d="M334.8 596.785L339 601.615M339 596.785L334.8 601.615" stroke="#111" stroke-width="1" fill="none"/>
<path d="M334.8 603.385L339 608.215M339 603.385L334.8 608.215" stroke="#111" stroke-width="1" fill="none"/>
<path d="M330.8 618.385L335 623.215M335 618.385L330.8 623.215" stroke="#111" stroke-width="1" fill="none"/>
<path d="M334.8 619.485L339 624.315M339 619.485L334.8 624.315" stroke="#111" stroke-width="1" fill="none"/>
<path d="M339.2 615.485L343.4 620.315M343.4 615.485L339.2 620.315" stroke="#111" stroke-width="1" fill="none"/>
<path d="M334.8 626.385L339 631.215M339 626.385L334.8 631.215" stroke="#111" stroke-width="1" fill="none"/>
<path d="M339.2 626.385L343.4 631.215M343.4 626.385L339.2 631.215" stroke="#111" stroke-width="1" fill="none"/>
<path d="M339.2 628.685L343.4 633.515M343.4 628.685L339.2 633.515" stroke="#111" stroke-width="1" fill="none"/>
<path d="M326.2 633.085L330.4 637.915M330.4 633.085L326.2 637.915" stroke="#111" stroke-width="1" fill="none"/>
<path d="M330.8 635.085L335 639.915M335 635.085L330.8 639.915" stroke="#111" stroke-width="1" fill="none"/>
<path d="M334.8 636.185L339 641.015M339 636.185L334.8 641.015" stroke="#111" stroke-width="1" fill="none"/>
<path d="M339.2 633.385L343.4 638.215M343.4 633.385L339.2 638.215" stroke="#111" stroke-width="1" fill="none"/>
<path d="M334.8 644.285L339 649.115M339 644.285L334.8 649.115" stroke="#111" stroke-width="1" fill="none"/>
<path d="M339.2 644.285L343.4 649.115M343.4 644.285L339.2 649.115" stroke="#111" stroke-width="1" fill="none"/>
<path d="M330.8 650.085L335 654.915M335 650.085L330.8 654.915" stroke="#111" stroke-width="1" fill="none"/>
<path d="M334.8 651.785L339 656.615M339 651.785L334.8 656.615" stroke="#111" stroke-width="1" fill="none"/>
<path d="M330.8 659.285L335 664.115M335 659.285L330.8 664.115" stroke="#111" stroke-width="1" fill="none"/>
<path d="M334.8 659.885L339 664.715M339 659.885L334.8 664.715" stroke="#111" stroke-width="1" fill="none"/>
<path d="M339.2 659.685L343.4 664.515M343.4 659.685L339.2 664.515" stroke="#111" stroke-width="1" fill="none"/>
<path d="M343.5 658.685L347.7 663.515M347.7 658.685L343.5 663.515" stroke="#111" stroke-width="1" fill="none"/>
<path d="M330.2 671.985L334.4 676.815M334.4 671.985L330.2 676.815" stroke="#111" stroke-width="1" fill="none"/>
<path d="M334.8 676.585L339 681.415M339 676.585L334.8 681.415" stroke="#111" stroke-width="1" fill="none"/>
<path d="M334.8 690.985L339 695.815M339 690.985L334.8 695.815" stroke="#111" stroke-width="1" fill="none"/>
<rect x="320.3" y="602.5" width="33.3" height="3" fill="#000"/>
</g>
</svg>
</body></html>
